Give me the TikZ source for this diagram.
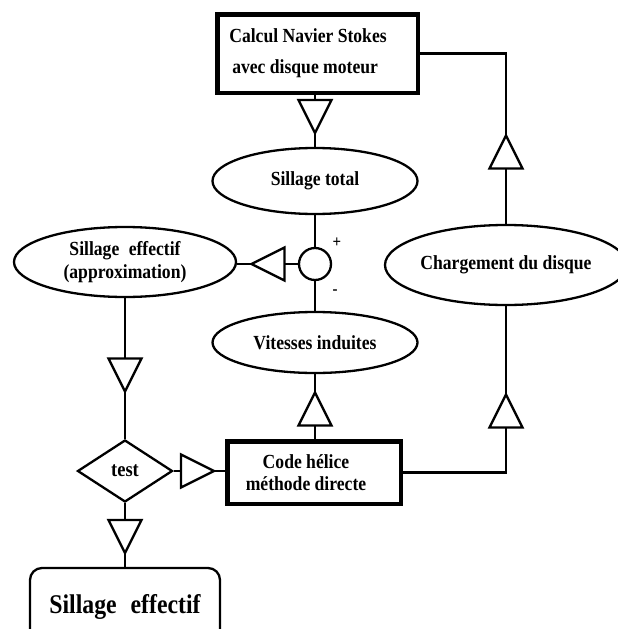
\documentclass[tikz,border=0pt]{standalone}
\usepackage{fontspec}
\setmainfont{Liberation Serif}[FakeStretch=0.88]
\usetikzlibrary{shapes.geometric}
\newcommand{\flowtri}[4]{%
  \begin{scope}[shift={(#2,#3)}, rotate=#4]
    \draw[trishape] (-16.5,-16.5) -- (16.5,0) -- (-16.5,16.5) -- cycle;
    \coordinate (#1-b) at (-16.5,0);
    \coordinate (#1-a) at (16.5,0);
  \end{scope}}
\begin{document}
\begin{tikzpicture}[x=1pt,y=-1pt,
  ln/.style={line width=2.3pt},
  trishape/.style={draw, line width=2.3pt, line join=miter},
  txt/.style={font=\fontsize{20}{23}\selectfont\bfseries, align=center},
  ell/.style={draw, ellipse, line width=2.3pt, inner sep=0pt, txt},
  thickbox/.style={draw, rectangle, line width=4.5pt, inner sep=0pt, txt},
  sign/.style={font=\fontsize{17}{17}\selectfont\bfseries, inner sep=0pt},
]
\useasboundingbox (0,0) rectangle (618,629);
\clip (0,0) rectangle (618,629);

% nodes
\node[thickbox, minimum width=200.5, minimum height=78.5,
      font=\fontsize{20}{31}\selectfont\bfseries, align=left]
  (nav) at (317.5,53.5) {Calcul Navier Stokes\hspace*{19pt}\\\hspace*{3pt}avec disque moteur};
\node[ell, minimum width=205, minimum height=66] (st) at (315,181) {Sillage total};
\node[draw, circle, line width=2.3pt, minimum size=32, inner sep=0pt] (circ) at (315,264) {};
\node[sign] (plus) at (337,243) {+};
\node[sign] (minus) at (335,292) {-};
\node[ell, minimum width=205, minimum height=61] (vi) at (315,342.5) {Vitesses induites};
\node[ell, minimum width=222, minimum height=70] (se) at (125,262) {Sillage\hspace*{5pt} effectif\\(approximation)};
\node[ell, minimum width=222, minimum height=80] (ch) at (506,265) {Chargement du disque};
\node[draw, diamond, line width=2.3pt, minimum width=95, minimum height=62, inner sep=0pt,
      font=\fontsize{21}{21}\selectfont\bfseries] (dia) at (125,471) {test};
\node[thickbox, minimum width=173.5, minimum height=62.5,
      font=\fontsize{20}{22}\selectfont\bfseries]
  (code) at (314,472.5) {Code hélice\hspace*{16pt}\\méthode directe\hspace*{16pt}};
\node[draw, rectangle, rounded corners=12pt, line width=2.3pt, minimum width=190, minimum height=78,
      inner sep=0pt, font=\fontsize{27}{27}\selectfont\bfseries]
  (res) at (125,607) {Sillage\hspace*{8pt} effectif};

% triangles
\flowtri{t1}{315}{116.5}{-90}
\flowtri{t2}{268}{264}{180}
\flowtri{t3}{125}{375}{-90}
\flowtri{t4}{197.5}{471}{0}
\flowtri{t5}{125}{536.5}{-90}
\flowtri{t6}{315}{409}{90}
\flowtri{t7}{506}{411}{90}
\flowtri{t8}{506}{152}{90}

% connectors
\draw[ln] (t1-b |- nav.south) -- (t1-b);
\draw[ln] (t1-a) -- (st.north);
\draw[ln] (st.south) -- (circ.north);
\draw[ln] (circ.south) -- (vi.north);
\draw[ln] (circ.west) -- (t2-b);
\draw[ln] (t2-a) -- (t2-a -| se.east);
\draw[ln] (se.south) -- (t3-b);
\draw[ln] (t3-a) -- (dia.north);
\draw[ln] (dia.east) -- (t4-b);
\draw[ln] (t4-a) -- (t4-a -| code.west);
\draw[ln] (dia.south) -- (t5-b);
\draw[ln] (t5-a) -- (res.north);
\draw[ln] (t6-b |- code.north) -- (t6-b);
\draw[ln] (t6-a) -- (vi.south);
\draw[ln] (code.east) -| (t7-b);
\draw[ln] (t7-a) -- (ch.south);
\draw[ln] (ch.north) -- (t8-b);
\draw[ln] (t8-a) |- (nav.east);
\end{tikzpicture}
\end{document}
